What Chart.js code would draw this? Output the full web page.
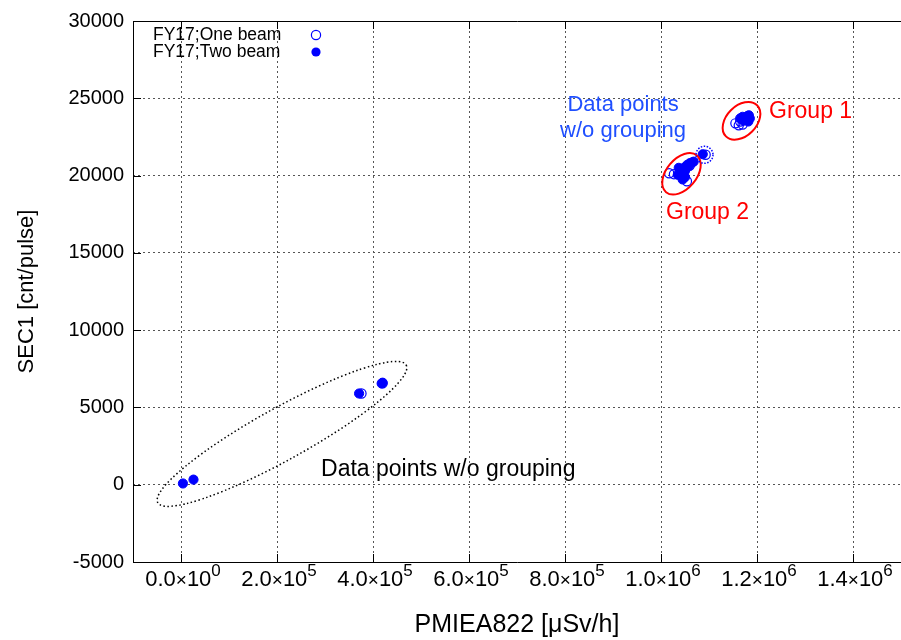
<!DOCTYPE html>
<html>
<head>
<meta charset="utf-8">
<script src="https://cdn.jsdelivr.net/npm/chart.js@4"></script>
<style>
html, body { margin: 0; padding: 0; background: #fff; overflow: hidden; }
</style>
</head>
<body>
<canvas id="grafica" width="901" height="640"></canvas>
<script>
// datos
const oneBeamX = [3.76e5, 4.2e5, 1.017e6, 1.027e6, 1.054e6, 1.045e6, 1.06e6, 1.093e6, 1.155e6, 1.162e6, 1.17e6, 1.165e6, 1.176e6];
const oneBeamY = [5900, 6560, 20150, 20090, 19630, 20300, 20650, 21350, 23380, 23250, 23300, 23500, 23650];
const twoBeamX = [4e3, 2.6e4, 3.71e5, 4.18e5, 4.2e5,
    1.035e6, 1.04e6, 1.045e6, 1.05e6, 1.055e6, 1.06e6, 1.065e6, 1.05e6, 1.042e6, 1.058e6, 1.068e6, 1.037e6, 1.045e6, 1.05e6, 1.087e6,
    1.165e6, 1.17e6, 1.175e6, 1.18e6, 1.178e6, 1.182e6, 1.172e6, 1.168e6, 1.185e6, 1.183e6];
const twoBeamY = [80, 330, 5900, 6550, 6600,
    20050, 20300, 20450, 20550, 20700, 20800, 20850, 20300, 20000, 20600, 20900, 20500, 19750, 19900, 21380,
    23700, 23800, 23750, 23850, 23600, 23500, 23550, 23650, 23700, 23900];
const seriesLabels = ['FY17;One beam', 'FY17;Two beam'];
const ticksX = [0, 2e5, 4e5, 6e5, 8e5, 1e6, 1.2e6, 1.4e6];
const ticksY = [-5000, 0, 5000, 10000, 15000, 20000, 25000, 30000];

const fuente = '"Liberation Sans", Arial, sans-serif';
const azul = '#0000ff';

// anotaciones (centro en coordenadas de datos)
const elipses = [
    {x: 2.104e5, y: 3288, rx: 142, ry: 26, rot: -29, color: '#000', width: 1.5, dash: [1.5, 2.5]},
    {x: 1.1677e6, y: 23540, rx: 22, ry: 15, rot: -45, color: '#ff0000', width: 2, dash: []},
    {x: 1.0427e6, y: 20116, rx: 24, ry: 15, rot: -50, color: '#ff0000', width: 2, dash: []},
    {x: 1.0906e6, y: 21344, rx: 8.5, ry: 8.5, rot: 0, color: azul, width: 1.5, dash: [1.5, 1.5]}
];
const textos = [
    {text: 'Data points', x: 9.21e5, y: 24540, align: 'center', color: '#1f4fff', size: 22},
    {text: 'w/o grouping', x: 9.21e5, y: 22870, align: 'center', color: '#1f4fff', size: 22},
    {text: 'Group 1', x: 1.225e6, y: 24150, align: 'left', color: '#ff0000', size: 23},
    {text: 'Group 2', x: 1.0104e6, y: 17630, align: 'left', color: '#ff0000', size: 23},
    {text: 'Data points w/o grouping', x: 2.917e5, y: 963, align: 'left', color: '#000', size: 23}
];

const toPoints = (xs, ys) => xs.map((x, i) => ({x: x, y: ys[i]}));

const extras = {
    id: 'extras',
    afterDatasetsDraw(chart) {
        const ctx = chart.ctx;
        const sx = chart.scales.x, sy = chart.scales.y;
        elipses.forEach(e => {
            ctx.save();
            ctx.beginPath();
            ctx.ellipse(sx.getPixelForValue(e.x), sy.getPixelForValue(e.y), e.rx, e.ry, e.rot * Math.PI / 180, 0, 2 * Math.PI);
            ctx.strokeStyle = e.color;
            ctx.lineWidth = e.width;
            ctx.setLineDash(e.dash);
            ctx.stroke();
            ctx.restore();
        });
        textos.forEach(t => {
            ctx.save();
            ctx.font = t.size + 'px ' + fuente;
            ctx.fillStyle = t.color;
            ctx.textAlign = t.align;
            ctx.textBaseline = 'middle';
            ctx.fillText(t.text, sx.getPixelForValue(t.x), sy.getPixelForValue(t.y));
            ctx.restore();
        });
    },
    afterDraw(chart) {
        const ctx = chart.ctx;
        const a = chart.chartArea;
        const sx = chart.scales.x, sy = chart.scales.y;
        ctx.save();
        ctx.strokeStyle = '#000';
        ctx.lineWidth = 1;
        ctx.setLineDash([]);
        // marco: izquierda, arriba y abajo (el derecho cae fuera de la imagen)
        ctx.beginPath();
        ctx.moveTo(a.right, a.top + 0.5);
        ctx.lineTo(a.left + 0.5, a.top + 0.5);
        ctx.lineTo(a.left + 0.5, a.bottom + 0.5);
        ctx.lineTo(a.right, a.bottom + 0.5);
        ctx.stroke();
        ctx.beginPath();
        ticksX.forEach(v => {
            const p = Math.round(sx.getPixelForValue(v)) + 0.5;
            ctx.moveTo(p, a.bottom); ctx.lineTo(p, a.bottom - 8);
            ctx.moveTo(p, a.top); ctx.lineTo(p, a.top + 8);
        });
        ticksY.forEach(v => {
            const p = Math.round(sy.getPixelForValue(v)) + 0.5;
            ctx.moveTo(a.left, p); ctx.lineTo(a.left + 8, p);
        });
        ctx.stroke();

        // etiquetas del eje x con exponente
        ctx.fillStyle = '#000';
        ctx.textBaseline = 'alphabetic';
        ctx.textAlign = 'left';
        ticksX.forEach(v => {
            const exp = v === 0 ? 0 : Math.floor(Math.log10(v));
            const mant = (v / Math.pow(10, exp)).toFixed(1);
            const partes = [
                {t: mant, f: '22px ' + fuente, dy: 0},
                {t: '\u00d7', f: '19px ' + fuente, dy: 0},
                {t: '10', f: '22px ' + fuente, dy: 0},
                {t: String(exp), f: '17px ' + fuente, dy: -10}
            ];
            let total = 0;
            partes.forEach(p => { ctx.font = p.f; p.w = ctx.measureText(p.t).width; total += p.w; });
            let x0 = sx.getPixelForValue(v) - total / 2 + 2;
            const base = 586;
            partes.forEach(p => {
                ctx.font = p.f;
                ctx.fillText(p.t, x0, base + p.dy);
                x0 += p.w;
            });
        });

        // leyenda
        ctx.font = '17.5px ' + fuente;
        ctx.textBaseline = 'middle';
        ctx.fillText(seriesLabels[0], 153, 35);
        ctx.fillText(seriesLabels[1], 153, 52);
        ctx.beginPath();
        ctx.arc(316, 35, 4.6, 0, 2 * Math.PI);
        ctx.strokeStyle = azul;
        ctx.lineWidth = 1.2;
        ctx.stroke();
        ctx.beginPath();
        ctx.arc(316, 52, 4.6, 0, 2 * Math.PI);
        ctx.fillStyle = azul;
        ctx.fill();
        ctx.restore();
    }
};

const grafica = new Chart('grafica', {
    type: 'scatter',
    data: {
        datasets: [{
            label: seriesLabels[1],
            data: toPoints(twoBeamX, twoBeamY),
            pointRadius: 4.6,
            pointBackgroundColor: azul,
            pointBorderColor: azul,
            pointBorderWidth: 1
        }, {
            label: seriesLabels[0],
            data: toPoints(oneBeamX, oneBeamY),
            pointRadius: 4.6,
            pointBackgroundColor: 'rgba(0,0,0,0)',
            pointBorderColor: azul,
            pointBorderWidth: 1.2
        }]
    },
    options: {
        responsive: false,
        animation: false,
        layout: {autoPadding: false, padding: {top: 19, right: 0, left: 0, bottom: 0}},
        plugins: {
            legend: {display: false},
            tooltip: {enabled: false}
        },
        scales: {
            x: {
                type: 'linear',
                min: -1e5,
                max: 1.5e6,
                afterBuildTicks: s => { s.ticks = ticksX.map(v => ({value: v})); },
                afterFit: s => { s.height = 78; },
                ticks: {display: false},
                grid: {color: '#555', drawTicks: false},
                border: {display: false, dash: [2, 3]},
                title: {display: true, text: 'PMIEA822 [μSv/h]', color: '#000', font: {family: fuente, size: 25}, padding: {top: 0, bottom: 0}}
            },
            y: {
                min: -5000,
                max: 30000,
                afterBuildTicks: s => { s.ticks = ticksY.map(v => ({value: v})); },
                afterFit: s => { s.width = 133; },
                ticks: {color: '#000', font: {family: fuente, size: 20}, padding: 9, callback: v => String(v)},
                grid: {color: '#555', drawTicks: false},
                border: {display: false, dash: [2, 3]},
                title: {display: true, text: 'SEC1 [cnt/pulse]', color: '#000', font: {family: fuente, size: 22}, padding: {top: 14, bottom: 0}}
            }
        }
    },
    plugins: [extras]
});
</script>
</body>
</html>
